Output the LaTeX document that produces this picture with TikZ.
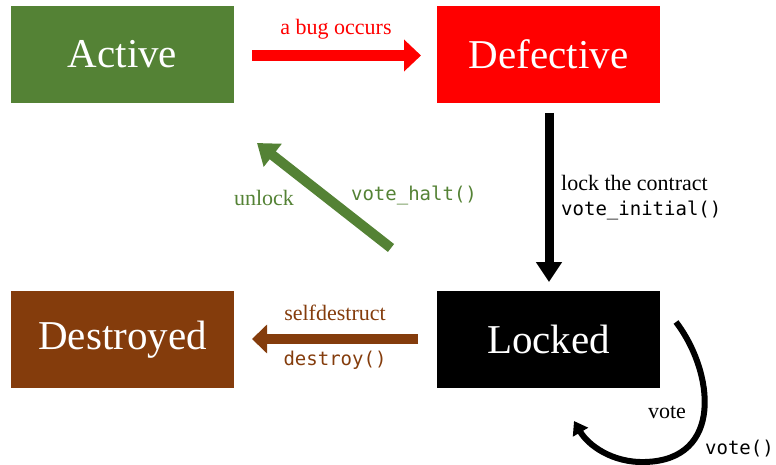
\documentclass[tikz,border=0pt]{standalone}
\usepackage{fontspec}
\setmainfont{Liberation Serif}
\setmonofont{DejaVu Sans Mono}
\usetikzlibrary{arrows.meta}
\definecolor{actgreen}{HTML}{548235}
\definecolor{defred}{HTML}{FF0000}
\definecolor{desbrown}{HTML}{843C0C}
\tikzset{
  state/.style={minimum width=223pt, minimum height=97pt, inner sep=0pt,
    text=white, font=\fontsize{41}{45}\selectfont},
  lbl/.style={inner sep=0pt, font=\fontsize{22}{24}\selectfont},
  code/.style={inner sep=0pt, font=\fontsize{19}{21}\selectfont\ttfamily},
  blockarrow/.style={line width=#1, line cap=butt},
}
\begin{document}
\begin{tikzpicture}[x=1pt, y=-1pt]
\useasboundingbox (0,0) rectangle (776,465);

% states
\node[state, fill=actgreen] (active) at (122.5,54.5) {Active};
\node[state, fill=defred] (defective) at (548.5,54.5) {Defective};
\node[state, fill=desbrown] (destroyed) at (122.5,339.5) {Destroyed};
\node[state, fill=black] (locked) at (548.5,339.5) {Locked};

% arrow end points
\coordinate (bugS) at (252,55.5);
\coordinate (bugE) at (421,55.5);
\coordinate (lockS) at (549,113);
\coordinate (lockE) at (549,282);
\coordinate (unlS) at (391,248);
\coordinate (unlE) at (257,143);
\coordinate (desS) at (418,339);
\coordinate (desE) at (252,339);
\coordinate (voteS) at (676,322);
\coordinate (voteE) at (574,421);

% transitions
\draw[defred, blockarrow=11pt, -{Triangle[width=31pt,length=17pt]}] (bugS) -- (bugE);
\draw[black, blockarrow=9pt, -{Triangle[width=25pt,length=20pt]}] (lockS) -- (lockE);
\draw[actgreen, blockarrow=10pt, -{Triangle[width=28pt,length=20pt]}] (unlS) -- (unlE);
\draw[desbrown, blockarrow=10pt, -{Triangle[width=28pt,length=15pt]}] (desS) -- (desE);
\draw[black, line width=6pt, -{Triangle[width=17pt,length=13pt]}]
  (voteS) .. controls (714,372) and (724,460) .. (645,462)
          .. controls (612,463) and (588,445) .. (voteE);

% labels
\node[lbl, text=defred] (lbug) at (336,29) {a bug occurs};
\node[lbl, anchor=west] (llock) at (561,183) {lock the contract};
\node[code, anchor=west] (clock) at (561,210) {vote\_initial()};
\node[lbl, text=actgreen] (lunl) at (264,198) {unlock};
\node[code, text=actgreen] (cunl) at (414,195) {vote\_halt()};
\node[lbl, text=desbrown] (ldes) at (335,313) {selfdestruct};
\node[code, text=desbrown] (cdes) at (335,360) {destroy()};
\node[lbl] (lvote) at (667,412) {vote};
\node[code, anchor=east] (cvote) at (774,449) {vote()};
\end{tikzpicture}
\end{document}
